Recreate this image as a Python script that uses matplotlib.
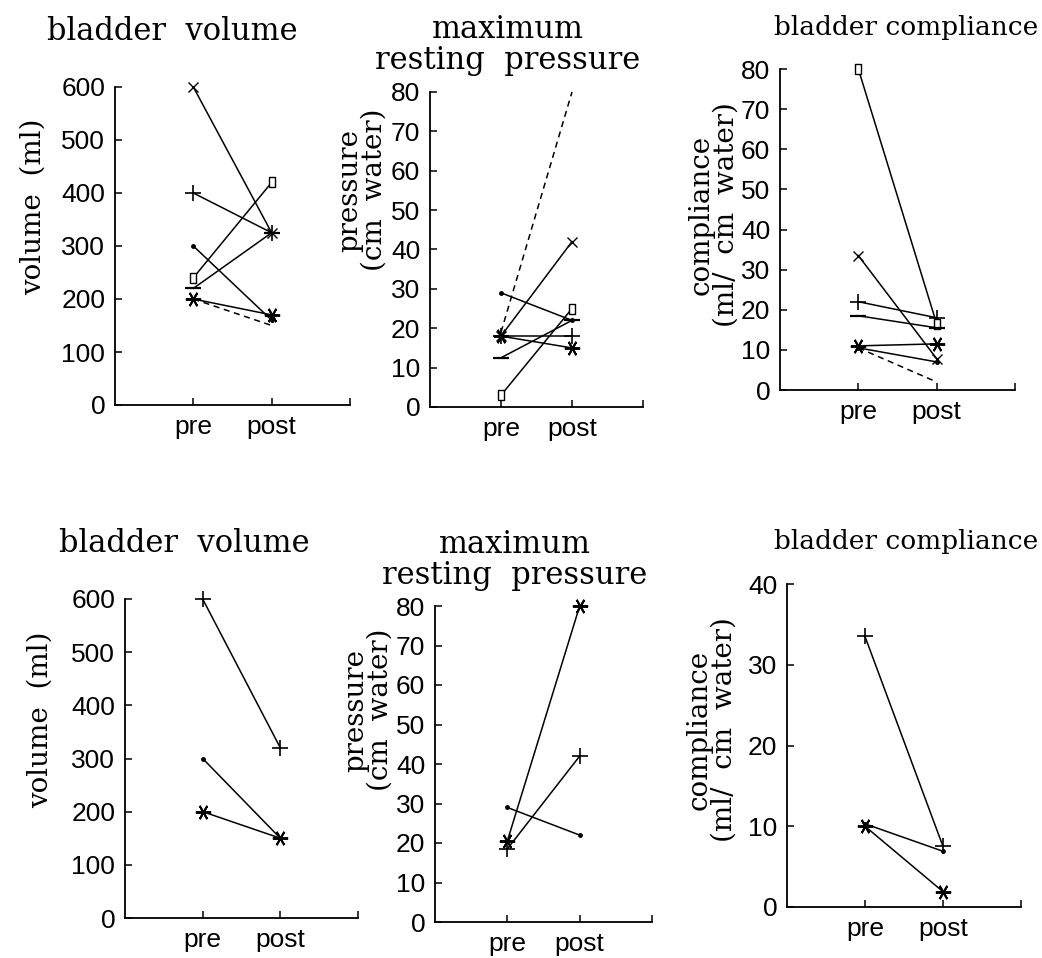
import matplotlib
matplotlib.use("Agg")
import matplotlib.pyplot as plt

W, H = 1042, 958

# ---------------- data ----------------
groups = ["pre", "post"]

# top row: seven patients
top_markers = ["x", "+", "sq", "_", ".", "*", "none"]
top_volume_pre = [600, 400, 240, 220, 300, 200, 200]
top_volume_post = [325, 325, 420, 325, 160, 170, 150]
top_pressure_pre = [18, 18, 3, 12.5, 29, 18, 19]
top_pressure_post = [42, 18, 25, 22, 22, 15, 80]
top_compliance_pre = [33.5, 22, 80, 18.5, 10.5, 11, 10.5]
top_compliance_post = [7.8, 18, 16.5, 15.5, 7, 11.5, 2]
top_styles = ["-", "-", "-", "-", "-", "-", "--"]

# bottom row: three patients
bot_markers = ["+", ".", "*"]
bot_volume_pre = [600, 300, 200]
bot_volume_post = [320, 150, 150]
bot_pressure_pre = [18.5, 29, 20.5]
bot_pressure_post = [42, 22, 80]
bot_compliance_pre = [33.5, 10.3, 10]
bot_compliance_post = [7.5, 6.9, 1.9]

titles = ["bladder  volume", "maximum\nresting  pressure", "bladder compliance"]
ylabels = ["volume  (ml)", "pressure\n(cm  water)", "compliance\n(ml/  cm  water)"]

vol_ticks = [0, 100, 200, 300, 400, 500, 600]
pres_ticks = [0, 10, 20, 30, 40, 50, 60, 70, 80]
comp_ticks_top = [0, 10, 20, 30, 40, 50, 60, 70, 80]
comp_ticks_bot = [0, 10, 20, 30, 40]

SERIF = "DejaVu Serif"
SANS = "Liberation Sans"

fig = plt.figure(figsize=(W / 100, H / 100), dpi=100)

square = [(-0.33, -0.5), (0.33, -0.5), (0.33, 0.5), (-0.33, 0.5), (-0.33, -0.5)]


def mk(m):
    if m == "sq":
        return dict(marker=square, ms=7, mfc="white", mec="black", mew=1.0)
    if m == "x":
        return dict(marker="x", ms=7, mew=1.0, mec="black")
    if m == "+":
        return dict(marker="+", ms=11, mew=1.2, mec="black")
    if m == "_":
        return dict(marker="_", ms=11, mew=1.6, mec="black")
    if m == ".":
        return dict(marker="o", ms=2.5, mfc="black", mec="black")
    if m == "*":
        return dict(marker=(6, 2, 90), ms=11, mew=1.4, mec="black")
    return dict(marker="None")


def make_ax(l, r, t, b, ticks, ymax):
    ax = fig.add_axes([l / W, 1 - b / H, (r - l) / W, (b - t) / H])
    ax.set_xlim(0, 3)
    ax.set_ylim(0, ymax)
    ax.spines["top"].set_visible(False)
    ax.spines["right"].set_visible(False)
    for s in ("left", "bottom"):
        ax.spines[s].set_linewidth(1.3)
    ax.set_xticks([1, 2, 3])
    ax.set_xticklabels(["pre", "post", ""])
    ax.set_yticks(ticks)
    ax.set_yticklabels([str(t) for t in ticks])
    ax.tick_params(direction="in", length=5, width=1.1, labelsize=19, pad=7)
    for lab in ax.get_xticklabels() + ax.get_yticklabels():
        lab.set_fontfamily(SANS)
    return ax


def draw(ax, pre, post, markers, styles):
    xs = [1, 2]
    for p, q, m, ls in zip(pre, post, markers, styles):
        ax.plot(xs, [p, q], color="black", lw=1.1, ls=ls,
                dashes=(4, 3) if ls == "--" else (None, None),
                clip_on=False, **mk(m))


layout = [
    # (l, r, t, b)
    (115, 350, 87, 405),
    (430, 643, 92, 407),
    (780, 1015, 69, 390),
    (125, 358, 599, 918),
    (435, 652, 606, 922),
    (787, 1021, 584, 907),
]

ax1 = make_ax(*layout[0], vol_ticks, 600)
draw(ax1, top_volume_pre, top_volume_post, top_markers, top_styles)
ax2 = make_ax(*layout[1], pres_ticks, 80)
draw(ax2, top_pressure_pre, top_pressure_post, top_markers, top_styles)
ax3 = make_ax(*layout[2], comp_ticks_top, 80)
draw(ax3, top_compliance_pre, top_compliance_post, top_markers, top_styles)

bstyles = ["-", "-", "-"]
ax4 = make_ax(*layout[3], vol_ticks, 600)
draw(ax4, bot_volume_pre, bot_volume_post, bot_markers, bstyles)
ax5 = make_ax(*layout[4], pres_ticks, 80)
draw(ax5, bot_pressure_pre, bot_pressure_post, bot_markers, bstyles)
ax6 = make_ax(*layout[5], comp_ticks_bot, 40)
draw(ax6, bot_compliance_pre, bot_compliance_post, bot_markers, bstyles)

# titles (pixel centres, font sizes)
title_spec = [(172, 32, 22), (508, 45, 22), (906, 28, 19),
              (184, 544, 22), (515, 560, 22), (906, 541, 19)]
for i, (x, y, fs) in enumerate(title_spec):
    fig.text(x / W, 1 - y / H, titles[i % 3], ha="center", va="center",
             fontsize=fs, family=SERIF, linespacing=1.0)

ylab_spec = [(33, 207), (362, 190), (714, 215), (40, 720), (368, 710), (712, 730)]
for i, (x, y) in enumerate(ylab_spec):
    fig.text(x / W, 1 - y / H, ylabels[i % 3], ha="center", va="center",
             rotation=90, fontsize=20, family=SERIF, linespacing=0.9)

fig.savefig("out.png", dpi=100)
